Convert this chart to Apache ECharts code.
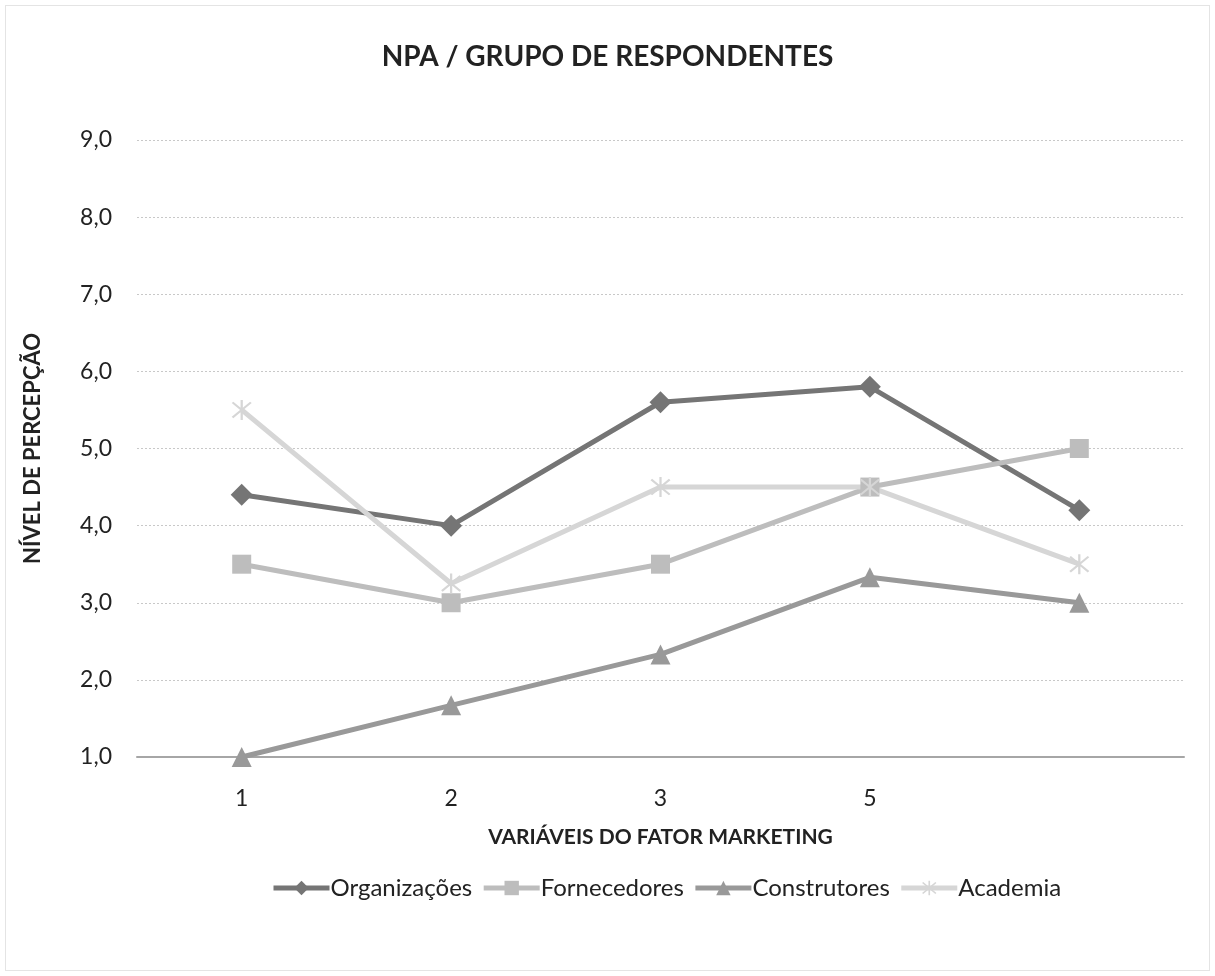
<!DOCTYPE html>
<html>
<head>
<meta charset="utf-8">
<script src="https://cdn.jsdelivr.net/npm/echarts@6/dist/echarts.min.js"></script>
<style>
  html, body { margin: 0; padding: 0; background: #fff; }
  #frame { position: absolute; left: 5px; top: 5px; width: 1203px; height: 964px; border: 1px solid #e4e4e4; }
  #chart { width: 1215px; height: 976px; }
</style>
</head>
<body>
<div id="frame"></div>
<div id="chart"></div>
<script>
const categories = ['1', '2', '3', '5', ''];
const organizacoes = [4.4, 4.0, 5.6, 5.8, 4.2];
const fornecedores = [3.5, 3.0, 3.5, 4.5, 5.0];
const construtores = [1.0, 1.67, 2.33, 3.33, 3.0];
const academia = [5.5, 3.25, 4.5, 4.5, 3.5];

// asterisk marker built from three thin bars
const asterisk = 'path://M9,0 L11,0 L11,20 L9,20 Z M1.2,3.1 L2.6,1.7 L18.8,16.9 L17.4,18.3 Z M17.4,1.7 L18.8,3.1 L2.6,18.3 L1.2,16.9 Z';

const font = 'Lato, "Open Sans", sans-serif';

function makeSeries(name, data, color, symbol, size) {
    return {
        name: name,
        type: 'line',
        data: data,
        symbol: symbol,
        symbolSize: size,
        lineStyle: { color: color, width: 5 },
        itemStyle: { color: color },
        emphasis: { disabled: true },
        animation: false
    };
}

const chart = echarts.init(document.getElementById('chart'));
chart.setOption({
    backgroundColor: 'transparent',
    title: {
        text: 'NPA / GRUPO DE RESPONDENTES',
        left: 'center',
        top: 38,
        textStyle: { fontFamily: font, fontSize: 28, fontWeight: 'bold', color: '#222' }
    },
    legend: {
        bottom: 71,
        left: 266,
        itemWidth: 56,
        itemHeight: 18,
        itemGap: 9,
        lineStyle: { width: 5 },
        textStyle: { fontFamily: font, fontSize: 24, color: '#222', padding: [0, 0, 0, -4] },
        data: ['Organizações', 'Fornecedores', 'Construtores', 'Academia']
    },
    grid: { left: 137, right: 31, top: 140, bottom: 219 },
    xAxis: {
        type: 'category',
        data: categories,
        name: 'VARIÁVEIS DO FATOR MARKETING',
        nameLocation: 'middle',
        nameGap: 70,
        nameTextStyle: { fontFamily: font, fontSize: 21, fontWeight: 'bold', color: '#222' },
        axisLine: { lineStyle: { color: '#a6a6a6', width: 2 } },
        axisTick: { show: false },
        axisLabel: { fontFamily: font, fontSize: 23, color: '#222', margin: 30 }
    },
    yAxis: {
        type: 'value',
        min: 1,
        max: 9,
        interval: 1,
        name: 'NÍVEL DE PERCEPÇÃO',
        nameLocation: 'middle',
        nameGap: 93,
        nameTextStyle: { fontFamily: font, fontSize: 22, fontWeight: 'bold', color: '#222' },
        axisLine: { show: false },
        axisTick: { show: false },
        axisLabel: {
            fontFamily: font, fontSize: 23, color: '#222', margin: 25,
            formatter: v => v.toFixed(1).replace('.', ',')
        },
        splitLine: { lineStyle: { color: '#c8c8c8', type: [2, 2], width: 1 } }
    },
    series: [
        makeSeries('Organizações', organizacoes, '#757575', 'diamond', 22),
        makeSeries('Fornecedores', fornecedores, '#bdbdbd', 'rect', 19),
        makeSeries('Construtores', construtores, '#999999', 'triangle', 20),
        makeSeries('Academia', academia, '#d6d6d6', asterisk, 20)
    ]
});
</script>
</body>
</html>
